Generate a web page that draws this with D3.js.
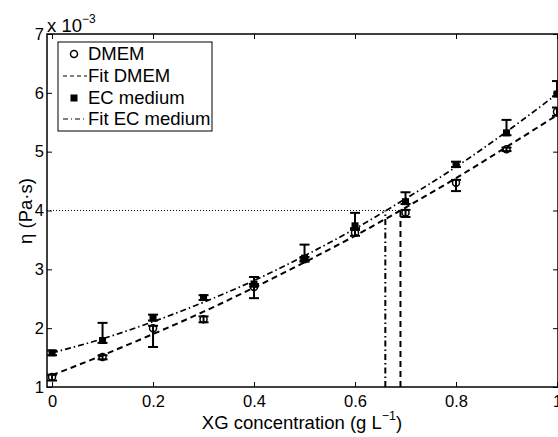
<!DOCTYPE html>
<html>
<head>
<meta charset="utf-8">
<script src="https://cdn.jsdelivr.net/npm/d3@7"></script>
<style>
  body { margin: 0; background: #fff; }
  svg text { font-family: "Liberation Sans", Arial, sans-serif; fill: #000; }
</style>
</head>
<body>
<svg id="chart" width="558" height="437"></svg>
<script>
// data (values in units of 1e-3 Pa.s)
const conc = [0, 0.1, 0.2, 0.3, 0.4, 0.5, 0.6, 0.7, 0.8, 0.9, 1.0];

const dmem = [1.17, 1.51, 2.00, 2.15, 2.70, 3.17, 3.62, 3.96, 4.47, 5.04, 5.68];
const dmemErrLow = [0.06, 0.04, 0.32, 0.05, 0.19, 0.04, 0.05, 0.07, 0.14, 0.03, 0.07];
const dmemErrHigh = [0.04, 0.03, 0.04, 0.05, 0.05, 0.04, 0.05, 0.05, 0.05, 0.03, 0.07];

const ec = [1.58, 1.79, 2.17, 2.52, 2.75, 3.19, 3.74, 4.15, 4.78, 5.32, 5.98];
const ecErrLow = [0.04, 0.04, 0.04, 0.04, 0.04, 0.04, 0.04, 0.04, 0.04, 0.04, 0.04];
const ecErrHigh = [0.04, 0.30, 0.06, 0.04, 0.12, 0.23, 0.22, 0.16, 0.05, 0.22, 0.22];

// fitted curves
const fitDmem = [1.20, 1.54, 1.90, 2.28, 2.69, 3.12, 3.57, 4.05, 4.55, 5.08, 5.62];
const fitEc = [1.58, 1.82, 2.11, 2.44, 2.81, 3.23, 3.69, 4.20, 4.74, 5.34, 5.98];

// where each fit reaches 4e-3 Pa.s
const threshold = 4;
const crossDmem = 0.69;
const crossEc = 0.66;

const xTicks = [0, 0.2, 0.4, 0.6, 0.8, 1];
const yTicks = [1, 2, 3, 4, 5, 6, 7];

const legendLabels = ["DMEM", "Fit DMEM", "EC medium", "Fit EC medium"];

const svg = d3.select("#chart");

const x = d3.scaleLinear().domain([-0.01, 1.0]).range([47, 557]);
const y = d3.scaleLinear().domain([1, 7]).range([387, 34]);

const dashed = "6,4";
const dashDot = "6,3,1.5,3";
const bigFont = 18.5;

// axes box
svg.append("rect")
  .attr("x", x(-0.01)).attr("y", y(7))
  .attr("width", x(1.0) - x(-0.01) + 1).attr("height", y(1) - y(7))
  .attr("fill", "none").attr("stroke", "#000").attr("stroke-width", 1.5);

// ticks inward (bottom / top / left / right)
const tickLen = 5;
const xAxisB = d3.axisBottom(x).tickValues(xTicks).tickSizeInner(-tickLen).tickSizeOuter(0)
  .tickPadding(8).tickFormat(d => d3.format("~g")(d));
const gx = svg.append("g").attr("transform", `translate(0,${y(1)})`).call(xAxisB);
const xAxisT = d3.axisTop(x).tickValues(xTicks).tickSizeInner(-tickLen).tickSizeOuter(0).tickFormat("");
const gxt = svg.append("g").attr("transform", `translate(0,${y(7)})`).call(xAxisT);

const yAxisL = d3.axisLeft(y).tickValues(yTicks).tickSizeInner(-tickLen).tickSizeOuter(0)
  .tickPadding(3).tickFormat(d3.format("d"));
const gy = svg.append("g").attr("transform", `translate(${x(-0.01)},0)`).call(yAxisL);
const yAxisR = d3.axisRight(y).tickValues(yTicks).tickSizeInner(-tickLen).tickSizeOuter(0).tickFormat("");
const gyr = svg.append("g").attr("transform", `translate(${x(1.0) + 1},0)`).call(yAxisR);

[gx, gxt, gy, gyr].forEach(g => {
  g.select(".domain").remove();
  g.selectAll(".tick line").attr("stroke", "#000").attr("stroke-width", 1);
  g.selectAll("text").attr("font-size", 16.5).attr("font-family", "Liberation Sans, Arial, sans-serif");
});
gx.selectAll(".tick text").attr("dy", "0.75em");

// exponent label
const expo = svg.append("text").attr("x", 47).attr("y", 32).attr("font-size", bigFont);
expo.append("tspan").text("x 10");
expo.append("tspan").attr("font-size", 12).attr("dy", -9).text("−3");

// axis titles
const xt = svg.append("text").attr("x", 302).attr("y", 429)
  .attr("text-anchor", "middle").attr("font-size", bigFont);
xt.append("tspan").text("XG concentration (g L");
xt.append("tspan").attr("font-size", 12.5).attr("dy", -9).text("−1");
xt.append("tspan").attr("dy", 9).text(")");

svg.append("text")
  .attr("transform", `translate(32,211) rotate(-90)`)
  .attr("text-anchor", "middle").attr("font-size", bigFont)
  .text("η (Pa·s)");

// threshold guide lines
svg.append("line")
  .attr("x1", x(-0.01)).attr("x2", x(crossDmem))
  .attr("y1", y(threshold)).attr("y2", y(threshold))
  .attr("stroke", "#000").attr("stroke-width", 1).attr("stroke-dasharray", "1,2");
svg.append("line")
  .attr("x1", x(crossEc)).attr("x2", x(crossEc))
  .attr("y1", y(1)).attr("y2", y(threshold))
  .attr("stroke", "#000").attr("stroke-width", 2).attr("stroke-dasharray", dashDot);
svg.append("line")
  .attr("x1", x(crossDmem)).attr("x2", x(crossDmem))
  .attr("y1", y(1)).attr("y2", y(threshold))
  .attr("stroke", "#000").attr("stroke-width", 2).attr("stroke-dasharray", dashed);

// fit curves
const line = d3.line().x((d, i) => x(conc[i])).y(d => y(d)).curve(d3.curveMonotoneX);
svg.append("path").attr("d", line(fitDmem))
  .attr("fill", "none").attr("stroke", "#000").attr("stroke-width", 2).attr("stroke-dasharray", dashed);
svg.append("path").attr("d", line(fitEc))
  .attr("fill", "none").attr("stroke", "#000").attr("stroke-width", 1.7).attr("stroke-dasharray", dashDot);

// error bars
function errorBars(vals, lo, hi) {
  const g = svg.append("g").attr("stroke", "#000").attr("stroke-width", 2);
  const capW = 5;
  vals.forEach((v, i) => {
    const cx = x(conc[i]);
    const y0 = y(v - lo[i]), y1 = y(v + hi[i]);
    g.append("line").attr("x1", cx).attr("x2", cx).attr("y1", y0).attr("y2", y1);
    g.append("line").attr("x1", cx - capW).attr("x2", cx + capW).attr("y1", y0).attr("y2", y0);
    g.append("line").attr("x1", cx - capW).attr("x2", cx + capW).attr("y1", y1).attr("y2", y1);
  });
}
errorBars(dmem, dmemErrLow, dmemErrHigh);
errorBars(ec, ecErrLow, ecErrHigh);

// markers
svg.append("g").selectAll("circle").data(dmem).join("circle")
  .attr("cx", (d, i) => x(conc[i])).attr("cy", d => y(d)).attr("r", 3.5)
  .attr("fill", "none").attr("stroke", "#000").attr("stroke-width", 1.5);
svg.append("g").selectAll("rect").data(ec).join("rect")
  .attr("x", (d, i) => x(conc[i]) - 3.5).attr("y", d => y(d) - 3.5)
  .attr("width", 7).attr("height", 7).attr("fill", "#000");

// legend
const lg = svg.append("g");
lg.append("rect").attr("x", 58).attr("y", 42).attr("width", 154).attr("height", 89)
  .attr("fill", "#fff").attr("stroke", "#000").attr("stroke-width", 1);
const rowY = [54, 76, 98, 119];
legendLabels.forEach((t, i) => {
  lg.append("text").attr("x", 88).attr("y", rowY[i]).attr("dy", "0.35em")
    .attr("font-size", bigFont).text(t);
});
lg.append("circle").attr("cx", 74).attr("cy", rowY[0]).attr("r", 3.5)
  .attr("fill", "none").attr("stroke", "#000").attr("stroke-width", 1.5);
lg.append("line").attr("x1", 63).attr("x2", 87).attr("y1", rowY[1]).attr("y2", rowY[1])
  .attr("stroke", "#000").attr("stroke-width", 1).attr("stroke-dasharray", "4,3");
lg.append("rect").attr("x", 70.5).attr("y", rowY[2] - 3.5).attr("width", 7).attr("height", 7).attr("fill", "#000");
lg.append("line").attr("x1", 63).attr("x2", 87).attr("y1", rowY[3]).attr("y2", rowY[3])
  .attr("stroke", "#000").attr("stroke-width", 1).attr("stroke-dasharray", "5,3,1,3");
</script>
</body>
</html>
